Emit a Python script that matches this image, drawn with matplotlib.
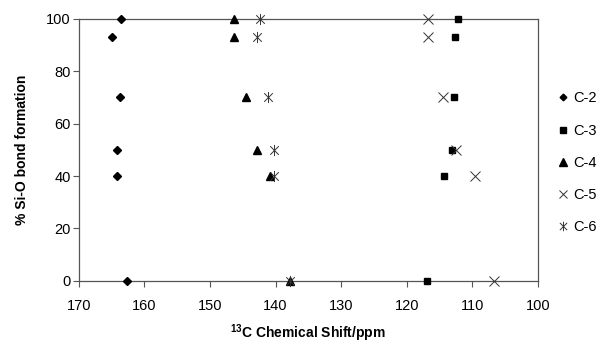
import matplotlib
matplotlib.use('Agg', force=True)
import matplotlib.pyplot as plt
from matplotlib.path import Path

plt.rcParams['font.family'] = ['Liberation Sans', 'DejaVu Sans']
plt.rcParams['mathtext.fontset'] = 'custom'
plt.rcParams['mathtext.bf'] = 'Liberation Sans:bold'
plt.rcParams['mathtext.rm'] = 'Liberation Sans'

# % Si-O bond formation levels
pct = [100, 93, 70, 50, 40, 0]

# 13C chemical shifts (ppm) per carbon
c2 = [163.5, 164.9, 163.7, 164.2, 164.2, 162.7]
c3 = [112.1, 112.7, 112.8, 113.1, 114.3, 116.9]
c4 = [146.4, 146.4, 144.5, 142.9, 140.9, 137.8]
c5 = [116.7, 116.7, 114.5, 112.4, 109.6, 106.7]
c6 = [142.3, 142.8, 141.2, 140.3, 140.3, 137.8]

# Excel-style asterisk: x plus vertical bar
asterisk = Path([(-1, -1), (1, 1), (-1, 1), (1, -1), (0, -1.3), (0, 1.3)],
                [Path.MOVETO, Path.LINETO, Path.MOVETO, Path.LINETO, Path.MOVETO, Path.LINETO])

fig = plt.figure(figsize=(6.16, 3.46), dpi=100)
ax = fig.add_axes([0.128, 0.188, 0.745, 0.758])

kw = dict(linestyle='none', clip_on=False, zorder=3)
ax.plot(c2, pct, marker='D', markersize=4, color='black', label='C-2', **kw)
ax.plot(c3, pct, marker='s', markersize=5, color='black', label='C-3', **kw)
ax.plot(c4, pct, marker='^', markersize=6, color='black', label='C-4', **kw)
ax.plot(c5, pct, marker='x', markersize=7, markeredgewidth=0.7, color='#333333', label='C-5', **kw)
ax.plot(c6, pct, marker=asterisk, markersize=8, markeredgewidth=0.7, color='#333333',
        markerfacecolor='none', label='C-6', **kw)

ax.set_xlim(170, 100)
ax.set_ylim(0, 100)
ax.set_xticks(range(170, 99, -10))
ax.set_yticks(range(0, 101, 20))
ax.tick_params(axis='both', labelsize=10.5, length=4, width=0.8, color='#555555')
ax.tick_params(axis='x', pad=9)
ax.tick_params(axis='y', pad=2)
for side in ['left', 'bottom', 'top', 'right']:
    ax.spines[side].set_color('#555555')
    ax.spines[side].set_linewidth(0.9)

ax.set_xlabel(r'$\mathbf{^{13}}$C Chemical Shift/ppm', fontsize=10, fontweight='bold', labelpad=7)
ax.set_ylabel('% Si-O bond formation', fontsize=10, fontweight='bold', labelpad=12)

ax.legend(loc='center left', bbox_to_anchor=(1.0, 0.45), frameon=False, fontsize=10.5,
          handlelength=0.6, handletextpad=0.4, labelspacing=1.25, borderaxespad=1.0, markerscale=0.85)

fig.savefig('out.png', dpi=100)
plt.close(fig)
